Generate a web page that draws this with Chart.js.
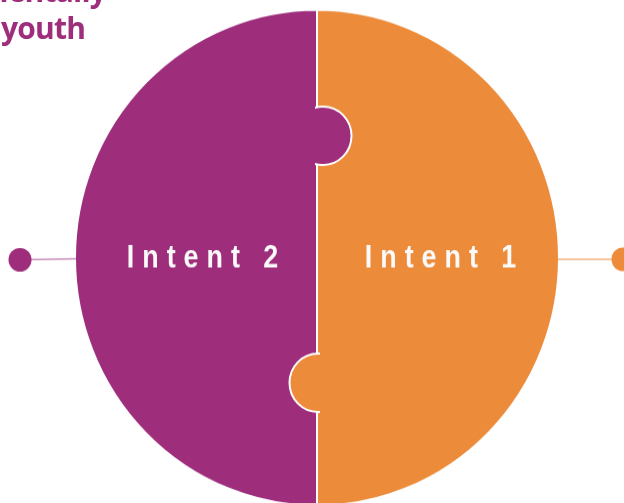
<!DOCTYPE html>
<html>
<head>
<meta charset="utf-8">
<script src="https://cdn.jsdelivr.net/npm/chart.js@4/dist/chart.umd.min.js"></script>
<style>
  body { margin: 0; background: #fff; overflow: hidden; }
  #wrap { position: relative; width: 624px; height: 503px; overflow: hidden; }
  #puzzle_chart { transform: scaleY(1.0248); transform-origin: 0 0; }
  #caption {
    position: absolute; left: 1px; top: -28px;
    font-family: "Open Sans", sans-serif; font-weight: 700; font-size: 30px;
    line-height: 37px; letter-spacing: -0.8px; color: #9e2e7c; white-space: nowrap;
  }
  #caption .cut { margin-left: -22px; }
</style>
</head>
<body>
<div id="wrap">
  <canvas id="puzzle_chart" width="624" height="491" style="width:624px;height:491px"></canvas>
  <div id="caption"><div class="cut">mentally</div><div>youth</div></div>
</div>
<script>
const labels = ['Intent 1', 'Intent 2'];
const shares = [50, 50];
const colours = ['#ec8c3b', '#9e2e7c'];
const lineColours = ['#f3b27e', '#c889b6'];

function spacedLabel(ctx, text, centreX, y) {
  // narrow, widely spaced lettering
  const squeeze = 0.84, gap = 9.5;
  ctx.save();
  ctx.font = 'bold 32px "Liberation Sans", Arial, sans-serif';
  ctx.letterSpacing = gap + 'px';
  ctx.textAlign = 'left';
  ctx.textBaseline = 'middle';
  const w = ctx.measureText(text).width - gap;
  ctx.translate(centreX - w * squeeze / 2, y);
  ctx.scale(squeeze, 1);
  ctx.fillText(text, 0, 0);
  ctx.restore();
}

// puzzle knobs, connector lines and the labels
const puzzlePlugin = {
  id: 'puzzle',
  afterDatasetsDraw(chart) {
    const ctx = chart.ctx;
    const arc = chart.getDatasetMeta(0).data[0];
    const p = arc.getProps(['x', 'y', 'outerRadius'], true);
    const cx = p.x, cy = p.y, r = p.outerRadius;

    // upper knob: purple piece pushing into orange
    ctx.save();
    ctx.beginPath();
    ctx.rect(cx - 2, cy - r, r, 2 * r);
    ctx.clip();
    ctx.beginPath();
    ctx.arc(cx + 6, cy - 119, 28.5, 0, Math.PI * 2);
    ctx.fillStyle = colours[1];
    ctx.fill();
    ctx.lineWidth = 2;
    ctx.strokeStyle = '#fff';
    ctx.stroke();
    ctx.restore();

    // lower knob: orange piece pushing into purple
    ctx.save();
    ctx.beginPath();
    ctx.rect(cx - r, cy - r, r + 3, 2 * r);
    ctx.clip();
    ctx.beginPath();
    ctx.arc(cx + 1, cy + 122, 28.5, 0, Math.PI * 2);
    ctx.fillStyle = colours[0];
    ctx.fill();
    ctx.lineWidth = 2;
    ctx.strokeStyle = '#fff';
    ctx.stroke();
    ctx.restore();

    // connectors
    const ly = cy + 1.5;
    ctx.save();
    ctx.lineWidth = 1.5;
    ctx.strokeStyle = lineColours[1];
    ctx.beginPath();
    ctx.moveTo(cx - 297, ly + 0.5);
    ctx.lineTo(cx - r + 1, ly - 0.5);
    ctx.stroke();
    ctx.strokeStyle = lineColours[0];
    ctx.beginPath();
    ctx.moveTo(cx + r - 1, ly);
    ctx.lineTo(cx + 306, ly);
    ctx.stroke();
    ctx.fillStyle = colours[1];
    ctx.beginPath();
    ctx.arc(cx - 297, ly + 0.5, 11.5, 0, Math.PI * 2);
    ctx.fill();
    ctx.fillStyle = colours[0];
    ctx.beginPath();
    ctx.arc(cx + 306, ly, 11.5, 0, Math.PI * 2);
    ctx.fill();
    ctx.restore();

    ctx.fillStyle = '#fafafa';
    spacedLabel(ctx, labels[1], cx - 114.5, cy + 1);
    spacedLabel(ctx, labels[0], cx + 123.5, cy + 1);
  }
};

new Chart(document.getElementById('puzzle_chart'), {
  type: 'pie',
  data: {
    labels: labels,
    datasets: [{
      data: shares,
      backgroundColor: colours,
      borderColor: '#ffffff',
      borderWidth: 2
    }]
  },
  options: {
    responsive: false,
    animation: false,
    radius: 242,
    layout: { padding: { left: 75, right: 65, top: 12, bottom: 0 } },
    plugins: {
      legend: { display: false },
      tooltip: { enabled: false }
    },
    events: []
  },
  plugins: [puzzlePlugin]
});
</script>
</body>
</html>
